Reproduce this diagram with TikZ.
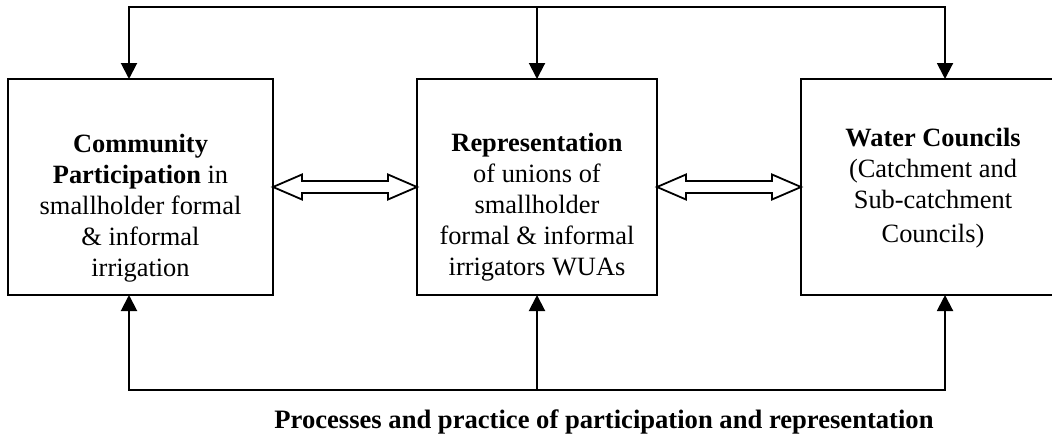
\documentclass[tikz,border=0pt]{standalone}
\usepackage{fontspec}
\setmainfont{Liberation Serif}
\usetikzlibrary{positioning, arrows.meta}

\tikzset{
  unitbox/.style={draw, line width=1.1pt, minimum width=132.5pt, minimum height=108pt, inner sep=0pt, outer sep=0pt},
  boxtext/.style={align=center, font=\fontsize{13.2}{15.5}\selectfont},
  flow/.style={line width=1pt, -{Triangle[length=8pt,width=8pt]}},
  frame/.style={line width=1pt, line cap=rect},
  link/.style={draw, line width=0.9pt, fill=white, line join=miter}
}

\begin{document}
\begin{tikzpicture}[x=0.5pt, y=-0.5pt]
  \useasboundingbox (0,0) rectangle (1052,439);

  % Draw the three boxes
  \node[unitbox] (comm) at (140.5,187) {};
  \node[unitbox, minimum width=120pt, right=72pt of comm] (repr) {};
  \node[unitbox, minimum width=132pt, right=72pt of repr] (wc) {};

  % Box texts
  \node[boxtext] (commtxt) at ([yshift=-10.5pt]comm.center) {\textbf{Community}\\ \textbf{Participation} in\\ smallholder formal\\ \& informal\\ irrigation};
  \node[boxtext] (reprtxt) at ([yshift=-10pt]repr.center) {\textbf{Representation}\\ of unions of\\ smallholder\\ formal \& informal\\ irrigators WUAs};
  \node[boxtext] (wctxt) at ([yshift=-0.5pt]wc.center) {\textbf{Water Councils}\\ (Catchment and\\ Sub-catchment\\[1.5pt] Councils)};

  % Open double arrows between the boxes
  \foreach \a/\b in {comm/repr, repr/wc} {
    \draw[link] (\a.east) -- ++(29,-12.5) -- ++(0,6.5) -- ++(86,0) -- ++(0,-6.5) -- (\b.west)
      -- ++(-29,12.5) -- ++(0,-6.5) -- ++(-86,0) -- ++(0,6.5) -- cycle;
  }

  % Feedback loops above and below
  \coordinate (topy) at (0,7);
  \coordinate (boty) at (0,390);
  \foreach \n/\d in {comm/-5.75pt, repr/0pt, wc/6pt} {
    \coordinate (\n-top) at ([xshift=\d]\n.north |- topy);
    \coordinate (\n-bot) at ([xshift=\d]\n.south |- boty);
    \draw[flow] (\n-top) -- ([xshift=\d]\n.north);
    \draw[flow] (\n-bot) -- ([xshift=\d]\n.south);
  }
  \draw[frame] (comm-top) -- (wc-top);
  \draw[frame] (comm-bot) -- (wc-bot);

  % Caption
  \node[anchor=base, font=\bfseries\fontsize{13.3}{15}\selectfont] (caption) at (604,428) {Processes and practice of participation and representation};
\end{tikzpicture}
\end{document}
